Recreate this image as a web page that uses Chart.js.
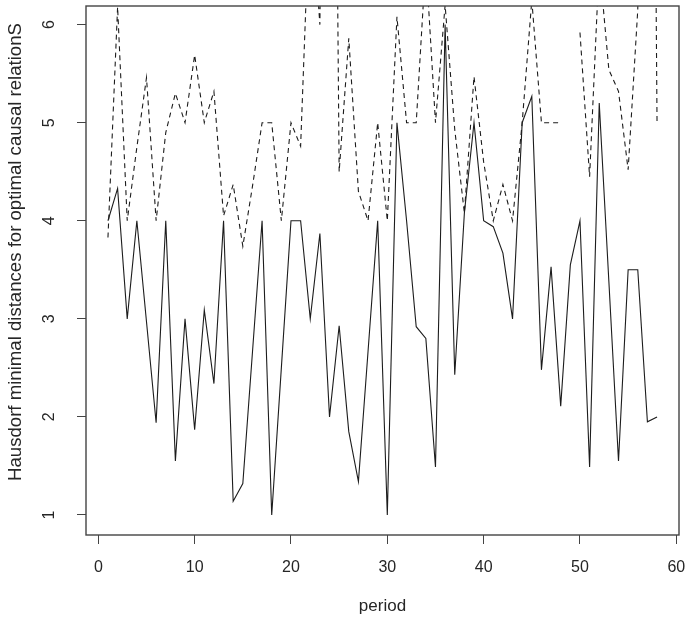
<!DOCTYPE html>
<html>
<head>
<meta charset="utf-8">
<script src="https://cdn.jsdelivr.net/npm/chart.js@4.4.1/dist/chart.umd.min.js"></script>
<style>
    html, body { margin: 0; padding: 0; background: #fff; }
    #wrap { width: 685px; height: 623px; }
</style>
</head>
<body>
<div id="wrap"><canvas id="grafica" width="685" height="623"></canvas></div>
<script>
"use strict";

/**
 * Datos
 */
const periods = [
    1, 2, 3, 4, 5, 6, 7, 8, 9, 10, 11, 12, 13, 14, 15, 16, 17, 18, 19, 20,
    21, 22, 23, 24, 25, 26, 27, 28, 29, 30, 31, 32, 33, 34, 35, 36, 37, 38, 39, 40,
    41, 42, 43, 44, 45, 46, 47, 48, 49, 50, 51, 52, 53, 54, 55, 56, 57, 58
];

// linea continua
const solidValues = [
    4.0, 4.33, 3.0, 4.0, 2.97, 1.94, 4.0, 1.55, 3.0, 1.87,
    3.09, 2.34, 4.0, 1.14, 1.32, 2.66, 4.0, 1.0, 2.5, 4.0,
    4.0, 3.0, 3.87, 2.0, 2.93, 1.85, 1.34, 2.67, 4.0, 1.0,
    5.0, 4.0, 2.92, 2.8, 1.49, 6.0, 2.43, 4.08, 5.0, 4.0,
    3.94, 3.67, 3.0, 5.0, 5.27, 2.48, 3.53, 2.11, 3.55, 4.0,
    1.49, 5.2, 3.38, 1.55, 3.5, 3.5, 1.95, 2.0
];

// linea punteada (null = sin dato)
const dashedValues = [
    3.83, 6.18, 4.0, 4.75, 5.46, 4.0, 4.9, 5.3, 5.0, 5.69,
    5.0, 5.32, 4.05, 4.37, 3.74, 4.35, 5.0, 5.0, 4.0, 5.0,
    4.76, 7.4, 6.0, 16.0, 4.5, 5.86, 4.3, 4.0, 5.0, 4.0,
    6.08, 5.0, 5.0, 6.65, 5.0, 6.2, 4.93, 4.08, 5.47, 4.6,
    4.0, 4.37, 4.0, 5.0, 6.25, 5.0, 5.0, 5.0, null, 5.92,
    4.45, 6.63, 5.54, 5.32, 4.52, 6.15, 18.0, 5.0
];

const xTicks = [0, 10, 20, 30, 40, 50, 60];
const yTicks = [1, 2, 3, 4, 5, 6];

const xLabel = "period";
const yLabel = "Hausdorf minimal distances for optimal causal relationS";

const fontFamily = "'Liberation Sans', Arial, sans-serif";
const textColor = "#262626";
const axisColor = "#444444";

/**
 * Caja del grafico, etiquetas del eje y y titulo vertical
 */
const rBoxPlugin = {
    id: "rBox",
    afterDraw(chart) {
        const { ctx, chartArea } = chart;
        const yScale = chart.scales.y;

        ctx.save();
        ctx.strokeStyle = axisColor;
        ctx.lineWidth = 1.4;
        ctx.strokeRect(
            chartArea.left,
            chartArea.top,
            chartArea.right - chartArea.left,
            chartArea.bottom - chartArea.top
        );

        ctx.fillStyle = textColor;
        ctx.font = `16px ${fontFamily}`;
        ctx.textAlign = "center";
        ctx.textBaseline = "middle";

        yScale.ticks.forEach((tick) => {
            const py = yScale.getPixelForValue(tick.value);
            ctx.save();
            ctx.translate(50, py);
            ctx.rotate(-Math.PI / 2);
            ctx.fillText(String(tick.value), 0, 0);
            ctx.restore();
        });

        ctx.font = `18.6px ${fontFamily}`;
        ctx.save();
        ctx.translate(16, 252);
        ctx.rotate(-Math.PI / 2);
        ctx.fillText(yLabel, 0, 0);
        ctx.restore();

        ctx.restore();
    },
};

const canvas = document.querySelector("#grafica");

new Chart(canvas, {
    type: "line",
    data: {
        datasets: [
            {
                label: "solid",
                data: periods.map((p, i) => ({ x: p, y: solidValues[i] })),
                borderColor: "#1c1c1c",
                borderWidth: 1.1,
                pointRadius: 0,
                tension: 0,
                fill: false,
            },
            {
                label: "dashed",
                data: periods.map((p, i) => ({ x: p, y: dashedValues[i] })),
                borderColor: "#1c1c1c",
                borderWidth: 1.1,
                borderDash: [5, 4],
                pointRadius: 0,
                tension: 0,
                fill: false,
                spanGaps: false,
            },
        ],
    },
    options: {
        responsive: false,
        animation: false,
        layout: {
            padding: { top: 6, right: 6, left: 0, bottom: 0 },
        },
        plugins: {
            legend: { display: false },
            tooltip: { enabled: false },
        },
        scales: {
            x: {
                type: "linear",
                min: -1.28,
                max: 60.28,
                afterBuildTicks: (scale) => {
                    scale.ticks = xTicks.map((v) => ({ value: v }));
                },
                afterFit: (scale) => {
                    scale.height = 88;
                    scale.paddingLeft = 0;
                    scale.paddingRight = 0;
                },
                grid: {
                    drawOnChartArea: false,
                    drawTicks: true,
                    tickLength: 9,
                    color: axisColor,
                    lineWidth: 1,
                },
                border: { display: false },
                ticks: {
                    font: { family: fontFamily, size: 16 },
                    color: textColor,
                    padding: 14,
                    maxRotation: 0,
                    autoSkip: false,
                },
                title: {
                    display: true,
                    text: xLabel,
                    color: textColor,
                    font: { family: fontFamily, size: 17 },
                    padding: { top: 0, bottom: 6 },
                },
            },
            y: {
                type: "linear",
                min: 0.796,
                max: 6.19,
                afterBuildTicks: (scale) => {
                    scale.ticks = yTicks.map((v) => ({ value: v }));
                },
                afterFit: (scale) => {
                    scale.width = 86;
                    scale.paddingTop = 0;
                    scale.paddingBottom = 0;
                },
                grid: {
                    drawOnChartArea: false,
                    drawTicks: true,
                    tickLength: 9,
                    color: axisColor,
                    lineWidth: 1,
                },
                border: { display: false },
                ticks: { display: false },
            },
        },
    },
    plugins: [rBoxPlugin],
});
</script>
</body>
</html>
